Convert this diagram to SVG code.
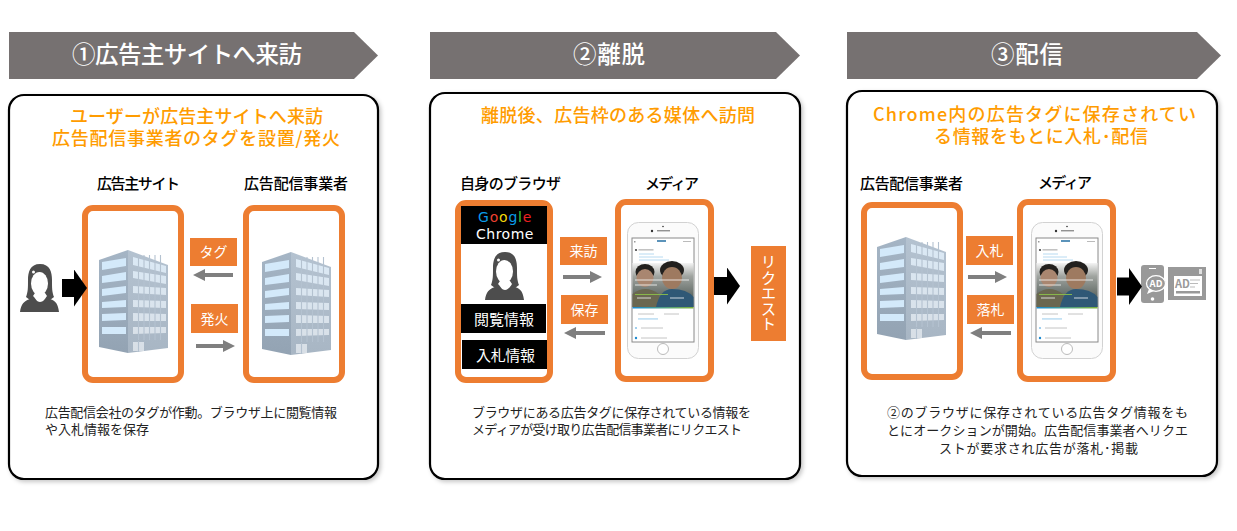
<svg xmlns="http://www.w3.org/2000/svg" width="1237" height="531" viewBox="0 0 1237 531">
<style>
text{font-family:"Noto Sans CJK JP","Noto Sans",sans-serif}
.banner{fill:#767171}
.bt{fill:#fff;font-size:23.5px;font-weight:500}
.panel{fill:#fff;stroke:#000;stroke-width:2.2;filter:url(#sh)}
.tt{fill:#ff9c00;font-size:18px;font-weight:500}
.hd{fill:#000;font-size:15px;font-weight:500}
.bd{fill:#222;font-size:13px}
.frame{fill:#fff;stroke:#ed7d31;stroke-width:6}
.lab{fill:#ed7d31}
.lt{fill:#fff;font-size:14px;text-anchor:middle}
.blk{fill:#000}
.wt{fill:#fff;font-size:15px}
.lat{font-family:"DejaVu Sans",sans-serif;font-size:14px}
.ga{stroke:#7f7f7f;stroke-width:4;marker-end:url(#gh);fill:none}
.ba{stroke:#000;stroke-width:18;marker-end:url(#bh);fill:none}
</style>
<defs>
<filter id="sh" x="-5%" y="-5%" width="110%" height="110%"><feDropShadow dx="2" dy="2" stdDeviation="2" flood-color="#000" flood-opacity=".22"/></filter>
<marker id="gh" markerUnits="userSpaceOnUse" markerWidth="12" markerHeight="12" refX="0" refY="6" orient="auto"><path d="M0 0L12 6L0 12Z" fill="#7f7f7f"/></marker>
<marker id="bh" markerUnits="userSpaceOnUse" markerWidth="13" markerHeight="37" refX="0" refY="18.5" orient="auto"><path d="M0 0L13 18.5L0 37Z" fill="#000"/></marker>
<linearGradient id="lf" x1="0" y1="0" x2="0" y2="1"><stop offset="0" stop-color="#a5b5c5"/><stop offset="1" stop-color="#93a3b3"/></linearGradient>
<linearGradient id="rf" x1="0" y1="0" x2="0" y2="1"><stop offset="0" stop-color="#b4c2d0"/><stop offset="1" stop-color="#a8b6c4"/></linearGradient>
<linearGradient id="rw" x1="0" y1="0" x2="0" y2="1"><stop offset="0" stop-color="#dbe9f5"/><stop offset="1" stop-color="#d8dfe6"/></linearGradient>
<linearGradient id="ph" x1="0" y1="0" x2="0" y2="1"><stop offset="0" stop-color="#f4f4f4"/><stop offset=".3" stop-color="#a0a4a0"/><stop offset="1" stop-color="#3e4a45"/></linearGradient>
<linearGradient id="bar"><stop offset="0" stop-color="#1c8ad0"/><stop offset="1" stop-color="#7fb23c"/></linearGradient>
<g id="bld">
<path d="M0 10L29 0V103L0 97Z" fill="url(#lf)"/>
<path d="M29 0L69 15V98L29 103Z" fill="url(#rf)"/>
<g fill="#d3e9fa"><path d="M3 12L27 8V16L3 20Z"/><path d="M3 26L27 22V30L3 33Z"/><path d="M3 39L27 36V43L3 46Z"/><path d="M3 52L27 50V57L3 58Z"/><path d="M3 64L27 63V70L3 71Z"/><path d="M3 77L27 77V84L3 84Z"/></g>
<path fill="url(#rw)" d="M34 7L67 16V23L34 15ZM34 21L67 26V34L34 28ZM34 36L67 38V45L34 43ZM34 50L67 51V58L34 57ZM34 63L67 64V71L34 71ZM34 77L67 77V83L34 84ZM34 92H45V101H34Z"/>
<path d="M39.5 5V90M45 5V90M50.5 5V90M56 5V90M61.500 5V90M39.500 91V102" stroke="#b4c2d0" stroke-width="1.100" fill="none"/>
</g>
<g id="per">
<path d="M0 48C1 40 4 37 10 35L14 32H26L30 35C36 37 38 40 39 48Z" fill="#4d4d4d"/>
<path d="M20 0C10 0 8 8 8 16C8 24 8 28 6 33L10 36H30L34 33C32 28 32 24 32 16C32 8 30 0 20 0Z" fill="#4d4d4d"/>
<ellipse cx="19.500" cy="19.500" rx="8.500" ry="11.500" fill="#fff"/>
<path d="M13 32C16 35 17 38 20 38C23 38 25 35 27 32L25 29H15Z" fill="#fff"/>
<circle cx="13.500" cy="8" r="1.500" fill="#fff"/>
</g>
<g id="phn">
<rect x=".5" y=".5" width="71" height="136" rx="11" fill="#fbfbfb" stroke="#d2d2d2"/>
<circle cx="36" cy="4.500" r=".8" fill="#333"/><circle cx="25" cy="9" r="1.200" fill="#333"/><rect x="30" y="8.300" width="13" height="1" fill="#666"/>
<rect x="5" y="16" width="62" height="104" fill="#fff" stroke="#8a8a8a"/>
<rect x="30" y="18" width="9" height="2" fill="#5b93ba"/><rect x="7" y="19" width="1.500" height="1.500" fill="#999"/><rect x="56" y="19" width="8" height="1" fill="#bbb"/>
<circle cx="9" cy="28" r="1.100" fill="#444"/><rect x="11.500" y="27.500" width="15" height=".8" fill="#888"/>
<path d="M12 32H27M12 35H36M12 38H42" stroke="#a4d0ee" stroke-width=".8" fill="none"/>
<rect x="5.500" y="41" width="61" height="44" fill="url(#ph)"/>
<path d="M5.500 85V72Q18 62 32 72V85Z" fill="#6a6750"/>
<ellipse cx="18" cy="50" rx="9.500" ry="8" fill="#22201e"/><ellipse cx="18" cy="56" rx="8.500" ry="9" fill="#a98670"/>
<path d="M29 85Q33 67 45 67Q60 67 66.500 75V85Z" fill="#2f5876"/>
<ellipse cx="45" cy="48" rx="12" ry="9" fill="#22201e"/><ellipse cx="45" cy="56" rx="10" ry="11" fill="#9e7a60"/>
<path d="M8 58H62M8 63H30M10 76H24M43 76H57" stroke="#fff" stroke-width=".9" fill="none" opacity=".85"/>
<rect x="8" y="72" width="33" height=".9" fill="#8cc04a"/>
<rect x="5.500" y="85" width="61" height="1.500" fill="url(#bar)"/>
<path d="M11 92H27M37 92H52M14 106H36M14 116H40" stroke="#c4c4c4" stroke-width="1" fill="none"/>
<rect x="11" y="96.500" width="20" height=".9" fill="#8cc5ea"/>
<circle cx="9" cy="106" r="1.100" fill="#8cc5ea"/><circle cx="9" cy="116" r="1.200" fill="#1c8ad0"/>
<circle cx="36" cy="127" r="5.500" fill="#fff" stroke="#bbb"/>
</g>
</defs>
<rect width="1237" height="531" fill="#fff"/>

<g id="step1">
<polygon class="banner" points="9,32 354,32 378,55.500 354,79 9,79"/>
<text class="bt" x="72" y="63" textLength="230">①広告主サイトへ来訪</text>
<rect class="panel" x="9" y="95" width="369" height="384" rx="15"/>
<text class="tt" x="70" y="123" textLength="253">ユーザーが広告主サイトへ来訪</text>
<text class="tt" x="52" y="145" textLength="288">広告配信事業者のタグを設置/発火</text>
<text class="bd" x="45" y="417" textLength="292">広告配信会社のタグが作動。ブラウザ上に閲覧情報</text>
<text class="bd" x="45" y="434" textLength="104">や入札情報を保存</text>
</g>
<g id="user1"><use href="#per" x="20" y="264"/></g>
<g id="advertiser1"><text class="hd" x="97" y="189" textLength="83">広告主サイト</text><rect class="frame" x="85" y="208" width="96" height="172" rx="8"/><use href="#bld" x="99" y="250"/></g>
<g id="adtech1"><text class="hd" x="244" y="189" textLength="104">広告配信事業者</text><rect class="frame" x="246" y="208" width="96" height="172" rx="8"/><use href="#bld" x="262" y="252"/></g>
<g id="label-tag"><rect class="lab" x="190" y="238" width="47" height="28"/><text class="lt" x="213.500" y="257">タグ</text></g>
<g id="label-fire"><rect class="lab" x="191" y="304" width="47" height="29"/><text class="lt" x="214.500" y="323.500">発火</text></g>

<g id="step2">
<polygon class="banner" points="430,32 776,32 800,55.500 776,79 430,79"/>
<text class="bt" x="573" y="63" textLength="72">②離脱</text>
<rect class="panel" x="430" y="93" width="370" height="386" rx="15"/>
<text class="tt" x="481" y="121.500" textLength="274">離脱後、広告枠のある媒体へ訪問</text>
<text class="bd" x="472" y="417" textLength="279">ブラウザにある広告タグに保存されている情報を</text>
<text class="bd" x="472" y="434" textLength="270">メディアが受け取り広告配信事業者にリクエスト</text>
</g>
<g id="browser"><text class="hd" x="460" y="189" textLength="101">自身のブラウザ</text><rect class="frame" x="458" y="203" width="92" height="177" rx="8"/>
<rect class="blk" x="461" y="206" width="86" height="38"/>
<text class="lat" x="478" y="222" letter-spacing=".8"><tspan fill="#0a9be8">G</tspan><tspan fill="#ee4030">o</tspan><tspan fill="#f5d90a">o</tspan><tspan fill="#0a9be8">g</tspan><tspan fill="#3cc43c">l</tspan><tspan fill="#ee2020">e</tspan></text>
<text class="lat" x="476" y="238.500" fill="#fff" letter-spacing=".5">Chrome</text>
<use href="#per" x="485" y="252"/>
<rect class="blk" x="461" y="304" width="85" height="29"/><text class="wt" x="474" y="325" textLength="60">閲覧情報</text>
<rect class="blk" x="462" y="340" width="85" height="29"/><text class="wt" x="476" y="361" textLength="59">入札情報</text></g>
<g id="media2"><text class="hd" x="645" y="189" textLength="54">メディア</text><rect class="frame" x="618" y="202" width="93" height="177" rx="8"/><use href="#phn" x="627" y="222"/></g>
<g id="label-visit"><rect class="lab" x="560" y="237" width="47" height="28"/><text class="lt" x="583.500" y="256">来訪</text></g>
<g id="label-save"><rect class="lab" x="561" y="295" width="47" height="29"/><text class="lt" x="584.500" y="314.500">保存</text></g>
<g id="request"><rect class="lab" x="751" y="246" width="35" height="95"/><text x="768.500" y="293.500" fill="#fff" font-size="15.500" text-anchor="middle" writing-mode="vertical-rl">リクエスト</text></g>

<g id="step3">
<polygon class="banner" points="847,32 1197,32 1221,55.500 1197,79 847,79"/>
<text class="bt" x="991" y="63" textLength="72">③配信</text>
<rect class="panel" x="847" y="91" width="370" height="385" rx="15"/>
<text class="tt" x="873" y="121" textLength="323">Chrome内の広告タグに保存されてい</text>
<text class="tt" x="934" y="143" textLength="214">る情報をもとに入札･配信</text>
<text class="bd" x="887" y="417" textLength="301">②のブラウザに保存されている広告タグ情報をも</text>
<text class="bd" x="887" y="435" textLength="301">とにオークションが開始。広告配信事業者へリクエ</text>
<text class="bd" x="939" y="453" textLength="199">ストが要求され広告が落札･掲載</text>
</g>
<g id="adtech3"><text class="hd" x="860" y="189" textLength="103">広告配信事業者</text><rect class="frame" x="864" y="205" width="96" height="172" rx="8"/><use href="#bld" x="877" y="237"/></g>
<g id="media3"><text class="hd" x="1038" y="188" textLength="54">メディア</text><rect class="frame" x="1020" y="202" width="93" height="177" rx="8"/><use href="#phn" x="1031" y="222"/></g>
<g id="label-bid"><rect class="lab" x="966" y="236" width="47" height="29"/><text class="lt" x="989.500" y="255.500">入札</text></g>
<g id="label-win"><rect class="lab" x="967" y="295" width="47" height="29"/><text class="lt" x="990.500" y="314.500">落札</text></g>
<g id="ad-icons">
<rect x="1141" y="265" width="23" height="38" rx="3" fill="#999"/>
<rect x="1149" y="268" width="7" height="1" fill="#fff"/><circle cx="1152.500" cy="299" r="1.800" fill="#fff"/>
<ellipse cx="1156" cy="283.500" rx="9.500" ry="7.800" fill="#999" stroke="#fff" stroke-width="1.300"/><path d="M1149 289L1147 294L1154 291Z" fill="#fff"/>
<text x="1156" y="287" fill="#fff" font-size="9.500" font-weight="700" text-anchor="middle">AD</text>
<rect x="1168" y="267" width="38" height="33" fill="#999"/><rect x="1174" y="276" width="28" height="20" fill="#fff"/><rect x="1199" y="269" width="3" height="5" fill="#e0e0e0"/>
<text x="1175" y="288" fill="#999" font-size="11" font-weight="700">AD</text>
<path d="M1190 280H1200M1190 283.500H1198M1190 287H1195" stroke="#bbb" stroke-width="1.200" fill="none"/><rect x="1176" y="291" width="24" height="2.500" fill="#999"/>
</g>

<g id="connectors">
<line class="ba" x1="62" y1="288" x2="74" y2="288"/>
<line class="ba" x1="714" y1="286" x2="727" y2="286"/>
<line class="ba" x1="1117" y1="286.500" x2="1129" y2="286.500"/>
<line class="ga" x1="233" y1="275" x2="205" y2="275"/>
<line class="ga" x1="196" y1="346" x2="223" y2="346"/>
<line class="ga" x1="563" y1="277" x2="590" y2="277"/>
<line class="ga" x1="605" y1="333" x2="576" y2="333"/>
<line class="ga" x1="968" y1="277" x2="995" y2="277"/>
<line class="ga" x1="1011" y1="333" x2="982" y2="333"/>
</g>
</svg>
